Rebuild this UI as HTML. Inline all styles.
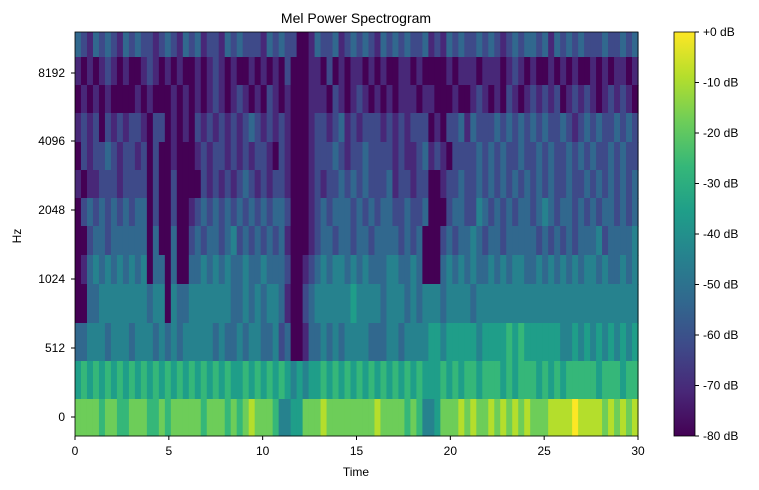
<!DOCTYPE html>
<html><head><meta charset="utf-8">
<style>
html,body{margin:0;padding:0;background:#fff;}
svg{display:block;font-family:"Liberation Sans","DejaVu Sans",sans-serif;}
</style></head>
<body>
<svg id="chart" width="759" height="490" viewBox="0 0 759 490" xmlns="http://www.w3.org/2000/svg">
<text x="356" y="23" font-size="14" text-anchor="middle">Mel Power Spectrogram</text>
<g id="cells"></g>
<g id="axes"></g>
<text x="356" y="476" font-size="12" text-anchor="middle">Time</text>
<text x="21" y="236" font-size="12" text-anchor="middle" transform="rotate(-90 21 236)">Hz</text>
<defs><linearGradient id="vir" x1="0" y1="1" x2="0" y2="0"></linearGradient></defs>
<rect x="674" y="32" width="21" height="404" fill="url(#vir)" stroke="#000" stroke-width="0.8"></rect>
<g id="cbticks"></g>
</svg>
<script>
// band levels: digits 0-9 -> -80..0 dB, top row first
const bandLevels = [
"3213232132322123213231221323222132322001322312323213232322312132322323212323323132323222322323",
"1010121010012101010010121010010101020001102010110101001101000010111011101210100101010010101101",
"0101010000101000101010121012101021010001110210121010101110110001001210102101212120121210121210",
"1212021212210220101021212121232121210001221231212221212122201022313222323232323223212323223232",
"0212232122120200100012122121212210210001222321223222212112312102222323232232232322323232232322",
"1011222122220200200002121212321212210001212232323222312212200122322323232323232322322323232323",
"0232323232330200200123232323232323320001232333232323322322300023322432323233234323323232332323",
"0023323333330300300232332342323232310001233233233233332323000232334323323333323232323334233334",
"0134343434340330300334343433433433320012343443434333443343000343434334343443343434343443433434",
"0033444444443440433444444433434344310023444444544443444343444344443444444444444444444444444444",
"3344434443444343434444434334344334230013343434444333443444455455555455556565555554454545454545",
"5656565656565656565656565655656565654545565656565656565656555656566566656566656565666665666566",
"7777677667776676777776777676787776445577787777777787777676445777878778787878777888898888787878"
];
const timeTicks = [0,5,10,15,20,25,30];
const hzTickLabels = ["0","512","1024","2048","4096","8192"];
const hzTickPos = [417,348,279,210,141,73];
const dbTicks = [0,-10,-20,-30,-40,-50,-60,-70,-80];
const tMax = 30;

const NS="http://www.w3.org/2000/svg";
const PX0=75, PX1=638, PY0=32, PY1=436;
const rowEdges=[32,57,85,113,142,170,198,226,255,284,323,361,399,436];
const vir=[[68,1,84],[72,40,120],[62,74,137],[49,104,142],[38,130,142],[31,158,137],[53,183,121],[109,205,89],[180,222,44],[253,231,37]];
function color(db){let t=Math.max(0,Math.min(1,(db+80)/80))*9;let i=Math.min(8,Math.floor(t)),f=t-i;
 const a=vir[i],b=vir[i+1];return "rgb("+a.map((v,k)=>Math.round(v+(b[k]-v)*f)).join(",")+")";}
const xScale=t=>PX0+(t/tMax)*(PX1-PX0);
const dbScale=d=>PY0+(-d/80)*(PY1-PY0);
const cells=document.getElementById("cells");
bandLevels.forEach((row,r)=>{
 const n=row.length,w=(PX1-PX0)/n;
 for(let c=0;c<n;c++){
  const db=-80+(+row[c])*80/9;
  const el=document.createElementNS(NS,"rect");
  
  
  el.setAttribute("x",(PX0+c*w).toFixed(2));el.setAttribute("width",(w+0.6).toFixed(2));
  el.setAttribute("y",rowEdges[r]);el.setAttribute("height",rowEdges[r+1]-rowEdges[r]+0.5);
  el.setAttribute("fill",color(db));cells.appendChild(el);
 }
});
const axes=document.getElementById("axes");
let s='<rect x="75" y="32" width="563" height="404" fill="none" stroke="#000" stroke-width="0.8"/>';
timeTicks.forEach(t=>{const x=xScale(t);s+=`<line x1="${x}" y1="436" x2="${x}" y2="440" stroke="#000"/><text x="${x}" y="455" font-size="12" text-anchor="middle">${t}</text>`;});
hzTickLabels.forEach((l,i)=>{const y=hzTickPos[i];s+=`<line x1="71" y1="${y}" x2="75" y2="${y}" stroke="#000"/><text x="65" y="${y+4}" font-size="12" text-anchor="end">${l}</text>`;});
axes.innerHTML=s;
const grad=document.getElementById("vir");
vir.forEach((c,i)=>{const st=document.createElementNS(NS,"stop");st.setAttribute("offset",(i/9));st.setAttribute("stop-color",`rgb(${c.join(",")})`);grad.appendChild(st);});
const cb=document.getElementById("cbticks");let s2="";
dbTicks.forEach(d=>{const y=dbScale(d);s2+=`<line x1="695" y1="${y}" x2="699" y2="${y}" stroke="#000"/><text x="703" y="${y+4}" font-size="12">${d===0?"+0":d} dB</text>`;});
cb.innerHTML=s2;
</script>
</body></html>
